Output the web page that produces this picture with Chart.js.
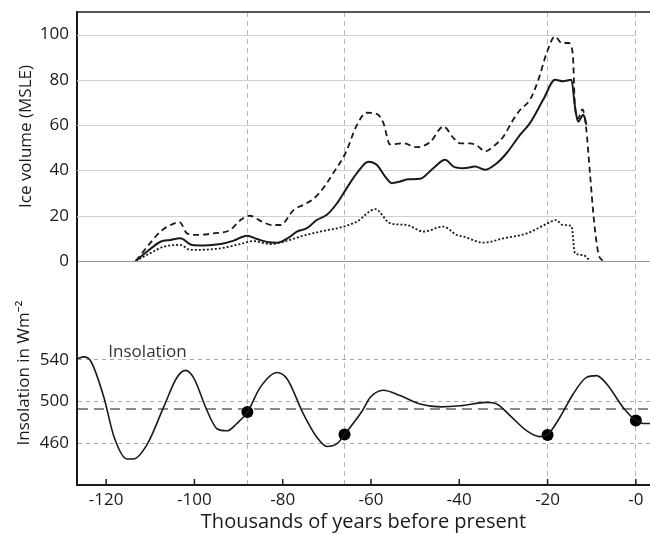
<!DOCTYPE html>
<html>
<head>
<meta charset="utf-8">
<script src="https://cdn.jsdelivr.net/npm/chart.js@4.4.1/dist/chart.umd.min.js"></script>
<style>
  body { margin: 0; background: #fff; }
  #wrap { width: 650px; height: 534px; position: relative; }
</style>
</head>
<body>
<div id="wrap"><canvas id="ice_chart"></canvas></div>
<script>
// DATA (thousands of years before present)
const highYears = [-113.3, -110.4, -107.7, -105.8, -103.3, -101.7, -99.4, -95.7, -91.9, -89.6, -87.5, -84.7, -82.5, -80.5, -77.5, -75.3, -73, -70.7, -68.5, -65.8, -63.2, -61, -58.7, -57.2, -55.7, -52.7, -49.7, -46.6, -43.6, -41.3, -39.8, -37.6, -35.7, -34.2, -32.3, -30, -27.8, -26.2, -24, -22.1, -20.2, -18.3, -16.8, -15.3, -14.3, -13.8, -13.1, -12.1, -11.3, -10.4, -9.5, -8.5, -7.5];
const highVolume = [0, 7, 13, 15.5, 17.1, 12.2, 11.5, 12.2, 13.7, 18, 20, 17.4, 15.9, 15.9, 22.6, 24.8, 27.5, 32.5, 39, 47.6, 60, 65.5, 65, 61, 51.5, 52, 50.3, 52.5, 59.4, 54.3, 52, 52, 50.6, 48.4, 50.6, 55, 62.4, 66.8, 71.2, 80, 91.9, 99.2, 96.3, 96.3, 91.7, 68.3, 63, 67, 59.4, 38.8, 18.1, 3.4, 0];

const midYears = [-113.3, -110.5, -107.7, -105.4, -103.2, -100.5, -97.9, -94.1, -91.1, -88.1, -85.8, -83.2, -81.3, -78.5, -76.8, -74.5, -72.3, -70, -67.7, -65.5, -63.2, -60.6, -58.7, -56.8, -55.3, -53.4, -51.5, -48.9, -45.9, -43.2, -41.3, -39.1, -36.4, -34.2, -31.5, -29.3, -26.2, -24, -21, -18.3, -16.5, -14.6, -13.8, -13.1, -11.9, -11.2];
const midVolume = [0, 4.5, 8.5, 9.3, 10, 7.1, 6.9, 7.5, 9, 11.2, 9.7, 8.3, 8.1, 10.5, 13, 14.5, 18.1, 20.4, 25.5, 32.2, 38.8, 43.9, 42.5, 37.3, 34.4, 35.1, 36.1, 36.3, 41, 44.7, 41.7, 41, 41.7, 40.3, 43.2, 47.6, 55.8, 60.9, 71.2, 80.1, 79.4, 80.1, 68.3, 61.6, 64.6, 60.2];

const lowYears = [-113.3, -110, -107, -103.2, -100.9, -94.1, -89.6, -86.6, -82.8, -79.8, -76, -71.5, -66.2, -63.2, -59, -55.7, -51.9, -48.1, -43.6, -40.6, -39.1, -34.5, -30, -24.7, -20.2, -18.1, -16.5, -14.6, -13.8, -11.9, -10.4];
const lowVolume = [0, 3.5, 6.3, 7.1, 4.9, 5.6, 7.5, 8.8, 7.5, 8.5, 10.8, 13, 15.2, 17.4, 22.9, 16.7, 15.9, 13, 15.2, 11.5, 10.8, 8.1, 10, 12.2, 16.4, 18.1, 15.9, 15.5, 3.4, 2.6, 0];

const insYears = [-126.6, -125, -123.5, -120.5, -118.2, -115.3, -113.8, -110.7, -107, -104, -102, -100.2, -97.1, -94.9, -92.6, -90.4, -88, -85.1, -81.3, -79, -75.3, -72.3, -70, -67.7, -66, -62, -60.2, -57.2, -53.4, -48.9, -44.3, -39.8, -33.8, -31.5, -28.5, -24.7, -21.7, -20, -17.2, -14.2, -11.2, -8.9, -6.6, -2.9, 0, 1.7, 3.2];
const insValues = [541.3, 543, 539, 504, 466, 445, 445, 459, 494.5, 523, 530, 523, 491, 474, 472, 479, 490, 513.7, 528, 521.8, 488, 466, 457, 459.7, 468.5, 491, 504, 511, 505.8, 497.8, 495, 496, 499.3, 497.8, 486.6, 472, 466.4, 468.3, 485, 507.4, 523.3, 525, 517, 494.5, 482, 479, 479];

const markerYears = [-88, -66, -20, 0];
const markerValues = [490, 468.5, 468, 482];

const insReference = 493;
const xTickYears = [-120, -100, -80, -60, -40, -20, 0];
const iceTicks = [0, 20, 40, 60, 80, 100];
const insTicks = [460, 500, 540];

const FONT = "'Open Sans', 'Noto Sans', sans-serif";
const INK = '#1a1a1a';

function pairs(xs, ys){
	return xs.map((x, i) => ({x: x, y: ys[i]}));
}

function noPad(s){
	s.paddingLeft = 0; s.paddingRight = 0; s.paddingTop = 0; s.paddingBottom = 0;
}

// ice grid lines stop at present day (x = 0)
const iceGrid = {
	id: 'iceGrid',
	beforeDatasetsDraw(chart){
		const ctx = chart.ctx;
		const xs = chart.scales.x;
		const yc = chart.scales.yIce;
		const left = chart.chartArea.left;
		const right = xs.getPixelForValue(0);
		ctx.save();
		ctx.strokeStyle = '#d0d0d0';
		ctx.lineWidth = 1;
		iceTicks.filter(v => v > 0).forEach( v => {
			const py = Math.round(yc.getPixelForValue(v)) + 0.5;
			ctx.beginPath();
			ctx.moveTo(left, py);
			ctx.lineTo(right, py);
			ctx.stroke();
		});
		ctx.restore();
	}
};

// inward tick marks on the time axis + the "Insolation" note
const extras = {
	id: 'extras',
	afterDraw(chart){
		const ctx = chart.ctx;
		const xs = chart.scales.x;
		const yi = chart.scales.yIns;
		const bottom = chart.chartArea.bottom;
		ctx.save();
		ctx.strokeStyle = INK;
		ctx.lineWidth = 1.5;
		xTickYears.forEach( v => {
			const px = xs.getPixelForValue(v);
			ctx.beginPath();
			ctx.moveTo(px, bottom);
			ctx.lineTo(px, bottom - 6);
			ctx.stroke();
		});
		ctx.fillStyle = '#333';
		ctx.font = '17px ' + FONT;
		ctx.textBaseline = 'alphabetic';
		ctx.fillText('Insolation', xs.getPixelForValue(-119.5), yi.getPixelForValue(543));
		ctx.restore();
	}
};

const ctx = document.getElementById('ice_chart').getContext('2d');

new Chart(ctx, {
	type: 'line',
	data: {
		datasets: [{
			data: pairs(highYears, highVolume),
			yAxisID: 'yIce',
			borderColor: INK,
			borderWidth: 1.8,
			borderDash: [6, 4],
			pointRadius: 0,
			cubicInterpolationMode: 'monotone',
			fill: false
		},{
			data: pairs(midYears, midVolume),
			yAxisID: 'yIce',
			borderColor: INK,
			borderWidth: 2,
			pointRadius: 0,
			cubicInterpolationMode: 'monotone',
			fill: false
		},{
			data: pairs(lowYears, lowVolume),
			yAxisID: 'yIce',
			borderColor: INK,
			borderWidth: 1.8,
			borderDash: [2, 2],
			pointRadius: 0,
			cubicInterpolationMode: 'monotone',
			fill: false
		},{
			data: pairs(insYears, insValues),
			yAxisID: 'yIns',
			borderColor: INK,
			borderWidth: 1.6,
			pointRadius: 0,
			cubicInterpolationMode: 'monotone',
			fill: false
		},{
			data: pairs(markerYears, markerValues),
			yAxisID: 'yIns',
			showLine: false,
			pointRadius: 6,
			pointBackgroundColor: '#000',
			pointBorderColor: '#000',
			pointBorderWidth: 0
		}]
	},
	options: {
		responsive: true,
		maintainAspectRatio: false,
		animation: false,
		layout: { autoPadding: false, padding: { top: 12, left: 0, right: 0, bottom: 0 } },
		plugins: {
			legend: { display: false },
			tooltip: { enabled: false }
		},
		scales: {
			x: {
				type: 'linear',
				min: -126.6,
				max: 3.2,
				afterBuildTicks: s => {
					s.ticks = xTickYears.concat([-88, -66]).sort((a, b) => a - b).map(v => ({value: v}));
				},
				afterFit: s => { s.height = 49; noPad(s); },
				ticks: {
					autoSkip: false,
					maxRotation: 0,
					padding: 5,
					color: INK,
					font: { family: FONT, size: 17 },
					callback: v => {
						if (v === -88 || v === -66) return '';
						return v === 0 ? '-0' : String(v);
					}
				},
				grid: {
					drawTicks: false,
					lineWidth: 1,
					color: c => markerYears.includes(c.tick.value) ? '#b5b5b5' : 'rgba(0,0,0,0)'
				},
				border: { color: INK, width: 2, dash: [5, 4] },
				title: {
					display: true,
					text: 'Thousands of years before present',
					color: INK,
					font: { family: FONT, size: 20 },
					padding: { top: 4, bottom: 0 }
				}
			},
			yIce: {
				type: 'linear',
				position: 'left',
				stack: 'panels',
				stackWeight: 249,
				weight: 2,
				min: 0,
				max: 110,
				afterBuildTicks: s => {
					s.ticks = iceTicks.concat([110]).map(v => ({value: v}));
				},
				afterFit: s => { s.width = 77; noPad(s); },
				ticks: {
					autoSkip: false,
					padding: 8,
					color: INK,
					font: { family: FONT, size: 17 },
					callback: v => v === 110 ? '' : String(v)
				},
				grid: {
					drawTicks: false,
					color: c => c.tick.value === 110 ? '#555' : (c.tick.value === 0 ? '#999' : 'rgba(0,0,0,0)'),
					lineWidth: c => c.tick.value === 110 ? 2 : 1
				},
				border: { color: INK, width: 2 },
				title: {
					display: true,
					text: 'Ice volume (MSLE)',
					color: INK,
					font: { family: FONT, size: 17 },
					padding: { top: 16, bottom: 0 }
				}
			},
			yIns: {
				type: 'linear',
				position: 'left',
				stack: 'panels',
				stackWeight: 224,
				weight: 1,
				min: 420,
				max: 635,
				afterBuildTicks: s => {
					s.ticks = insTicks.concat([insReference]).sort((a, b) => a - b).map(v => ({value: v}));
				},
				afterFit: s => { s.width = 77; noPad(s); },
				ticks: {
					autoSkip: false,
					padding: 8,
					color: INK,
					font: { family: FONT, size: 17 },
					callback: v => v === insReference ? '' : String(v)
				},
				grid: {
					drawTicks: false,
					color: c => c.tick.value === insReference ? '#8a8a8a' : '#a8a8a8',
					lineWidth: c => c.tick.value === insReference ? 2 : 1
				},
				border: {
					color: INK,
					width: 2,
					dash: c => c.tick && c.tick.value === insReference ? [10, 6] : [4, 4]
				},
				title: {
					display: true,
					text: 'Insolation in Wm\u207B\u00B2',
					color: INK,
					font: { family: FONT, size: 17 },
					padding: { top: 14, bottom: 0 }
				}
			}
		}
	},
	plugins: [iceGrid, extras]
});
</script>
</body>
</html>
